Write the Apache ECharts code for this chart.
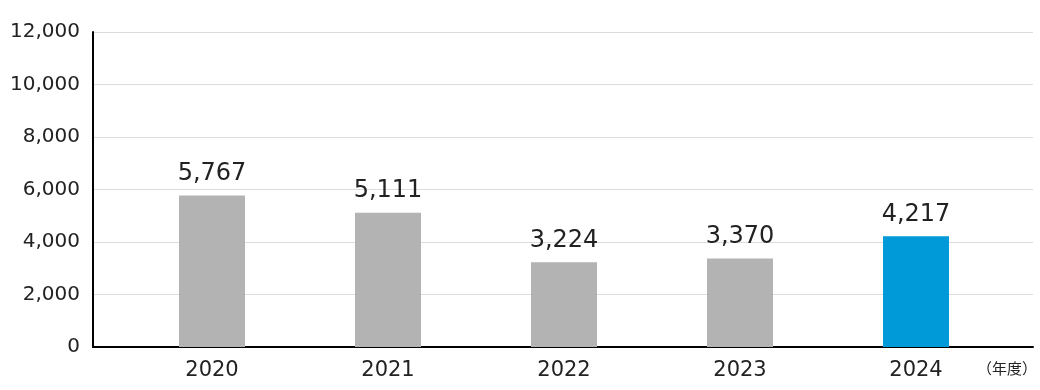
<!DOCTYPE html>
<html><head><meta charset="utf-8">
<script src="https://cdn.jsdelivr.net/npm/echarts@6/dist/echarts.min.js"></script>
<style>html,body{margin:0;padding:0;background:#fff}#c{width:1040px;height:390px}</style>
</head><body><div id="c"></div>
<script>
const categories = ['2020','2021','2022','2023','2024'];
const values = [5767, 5111, 3224, 3370, 4217];
const yTicks = [0, 2000, 4000, 6000, 8000, 10000, 12000];
const unitLabel = '（年度）';

const FONT = '"DejaVu Sans", "Noto Sans CJK JP", sans-serif';
const CJK = '"Noto Sans CJK JP", sans-serif';
const chart = echarts.init(document.getElementById('c'));
const fmt = v => v.toLocaleString('en-US');
chart.setOption({
  animation: false,
  grid: [
    {left: 93, right: 7, top: 32, bottom: 43},
    {left: 124, right: 36, top: 32, bottom: 43}
  ],
  xAxis: [
    {gridIndex: 0, type: 'category', data: [''], axisLine: {lineStyle: {color: '#000', width: 2}},
     axisTick: {show: false}, axisLabel: {show: false}},
    {gridIndex: 1, type: 'category', data: categories, axisLine: {show: false}, axisTick: {show: false},
     axisLabel: {color: '#222', fontSize: 21, fontFamily: FONT, margin: 13}}
  ],
  yAxis: [
    {gridIndex: 0, type: 'value', min: yTicks[0], max: yTicks[yTicks.length-1], interval: 2000,
     axisLine: {show: true, lineStyle: {color: '#000', width: 2}}, axisTick: {show: false},
     splitLine: {lineStyle: {color: '#dcdcdc', width: 1}},
     axisLabel: {color: '#222', fontSize: 20, fontFamily: FONT, margin: 13, formatter: v => fmt(v)}},
    {gridIndex: 1, type: 'value', min: yTicks[0], max: yTicks[yTicks.length-1], interval: 2000,
     show: false, splitLine: {show: false}}
  ],
  series: [{
    type: 'bar', xAxisIndex: 1, yAxisIndex: 1, barWidth: 66,
    data: values.map((v, i) => ({value: v, itemStyle: {color: i === values.length - 1 ? '#009ad9' : '#b3b3b3'}})),
    label: {show: true, position: 'top', distance: 10, color: '#222', fontSize: 24, fontFamily: FONT,
      formatter: p => fmt(p.value)},
    z: 3
  }],
  graphic: [{type: 'text', right: 3, top: 361, style: {text: unitLabel, fill: '#222', fontSize: 15, fontFamily: CJK}}]
});
</script></body></html>
